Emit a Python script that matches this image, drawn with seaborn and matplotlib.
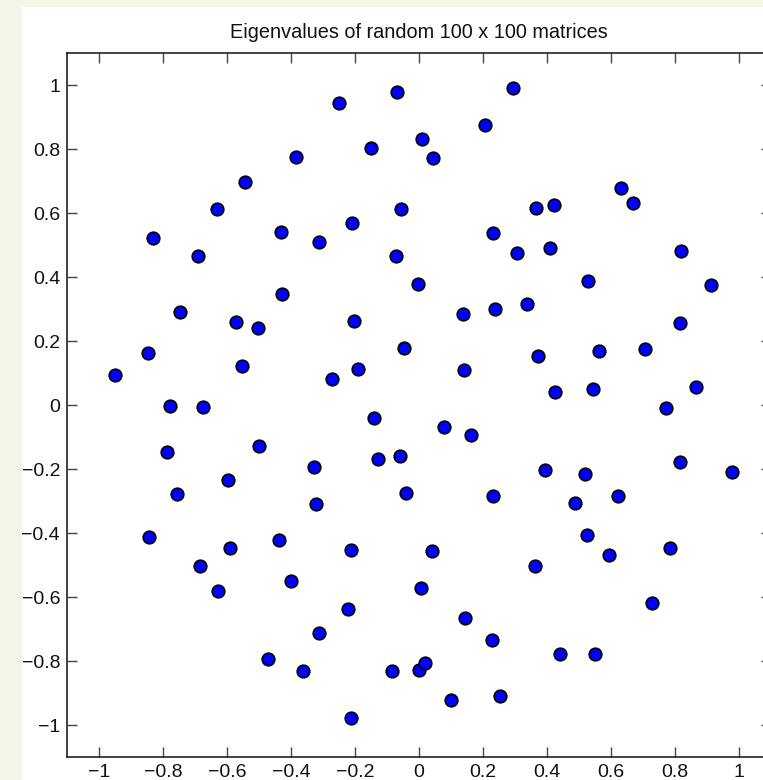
import matplotlib
matplotlib.use("Agg")
import matplotlib.pyplot as plt
import seaborn as sns
import pandas as pd
from matplotlib.patches import Rectangle

real_part = [
    -0.385, -0.544, -0.630, -0.832, -0.691, -0.430,
    -0.251, -0.069, 0.293, 0.206, 0.008, -0.149, 0.045, -0.057, -0.208, -0.313,
    0.232, 0.307, -0.072, -0.002,
    0.366, 0.423, 0.632, 0.670, 0.408, 0.819, 0.527, 0.911,
    -0.427, -0.746, -0.573, -0.504, -0.848, -0.552, -0.950, -0.778, -0.675,
    -0.786, -0.500, -0.596, -0.756,
    0.136, 0.237, 0.336, -0.203, -0.046, -0.192, -0.273, 0.142, -0.141, 0.078,
    0.163, -0.129, -0.060, -0.328, -0.322, -0.041, 0.230,
    0.816, 0.372, 0.5625, 0.706, 0.425, 0.545, 0.867, 0.771, 0.817, 0.979,
    0.393, 0.519, 0.623, 0.487,
    -0.8425, -0.592, -0.4375, -0.684, -0.399, -0.629, -0.473,
    -0.214, 0.040, 0.006, -0.223, 0.145, -0.314, 0.228, -0.3625, -0.084,
    0.000, 0.019, 0.099, 0.253, -0.214,
    0.3625, 0.526, 0.594, 0.784, 0.727, 0.441, 0.549,
]
imag_part = [
    0.774, 0.698, 0.611, 0.523, 0.465, 0.542,
    0.943, 0.978, 0.990, 0.876, 0.831, 0.802, 0.773, 0.611, 0.569, 0.509,
    0.539, 0.476, 0.467, 0.377,
    0.615, 0.625, 0.678, 0.630, 0.491, 0.482, 0.389, 0.374,
    0.346, 0.290, 0.258, 0.240, 0.161, 0.123, 0.094, -0.002, -0.006,
    -0.148, -0.128, -0.235, -0.278,
    0.285, 0.300, 0.317, 0.263, 0.179, 0.1125, 0.080, 0.108, -0.042, -0.070,
    -0.093, -0.168, -0.158, -0.193, -0.308, -0.274, -0.284,
    0.255, 0.153, 0.168, 0.175, 0.042, 0.050, 0.056, -0.009, -0.179, -0.210,
    -0.203, -0.216, -0.283, -0.307,
    -0.4115, -0.446, -0.421, -0.502, -0.549, -0.581, -0.793,
    -0.453, -0.455, -0.573, -0.639, -0.667, -0.7125, -0.733, -0.832, -0.832,
    -0.829, -0.807, -0.921, -0.908, -0.978,
    -0.504, -0.406, -0.470, -0.448, -0.619, -0.778, -0.779,
]
x_ticks = [-1, -0.8, -0.6, -0.4, -0.2, 0, 0.2, 0.4, 0.6, 0.8, 1]
y_ticks = [-1, -0.8, -0.6, -0.4, -0.2, 0, 0.2, 0.4, 0.6, 0.8, 1]
title_text = "Eigenvalues of random 100 x 100 matrices"

df = pd.DataFrame({"re": real_part, "im": imag_part})

sns.set_theme(style="white")
plt.rcParams["font.family"] = ["Liberation Sans", "DejaVu Sans"]
plt.rcParams["axes.unicode_minus"] = True

W, H = 763, 780
fig = plt.figure(figsize=(W / 100, H / 100), dpi=100)
fig.patch.set_facecolor("#f5f5e7")
# white panel of the figure window
panel = Rectangle((22 / W, 0), 1, 1 - 7 / H, transform=fig.transFigure,
                  facecolor="white", edgecolor="none", zorder=-10)
fig.add_artist(panel)

ax = fig.add_axes([67 / W, 23 / H, 704 / W, 704 / H])
ax.set_zorder(1)
ax.set_facecolor("white")

sns.scatterplot(data=df, x="re", y="im", ax=ax, s=82, color="#0000ff",
                edgecolor="black", linewidth=1.2, legend=False, zorder=3)

ax.set_xlim(-1.1, 1.1)
ax.set_ylim(-1.1, 1.1)
ax.set_xticks(x_ticks)
ax.set_yticks(y_ticks)
ax.set_xticklabels([f"{t:g}".replace("-", "\u2212") for t in x_ticks])
ax.set_yticklabels([f"{t:g}".replace("-", "\u2212") for t in y_ticks])
ax.set_xlabel("")
ax.set_ylabel("")
ax.tick_params(direction="in", length=7, width=1.0, color="#444444",
               top=True, right=True, bottom=True, left=True,
               labelsize=14, labelcolor="#111111", pad=5)
for sp in ax.spines.values():
    sp.set_visible(True)
    sp.set_color("#111111")
    sp.set_linewidth(1.1)
ax.grid(False)
ax.set_title(title_text, fontsize=14.3, pad=11, color="#111111")

fig.savefig("out.png", dpi=100, facecolor=fig.get_facecolor())
